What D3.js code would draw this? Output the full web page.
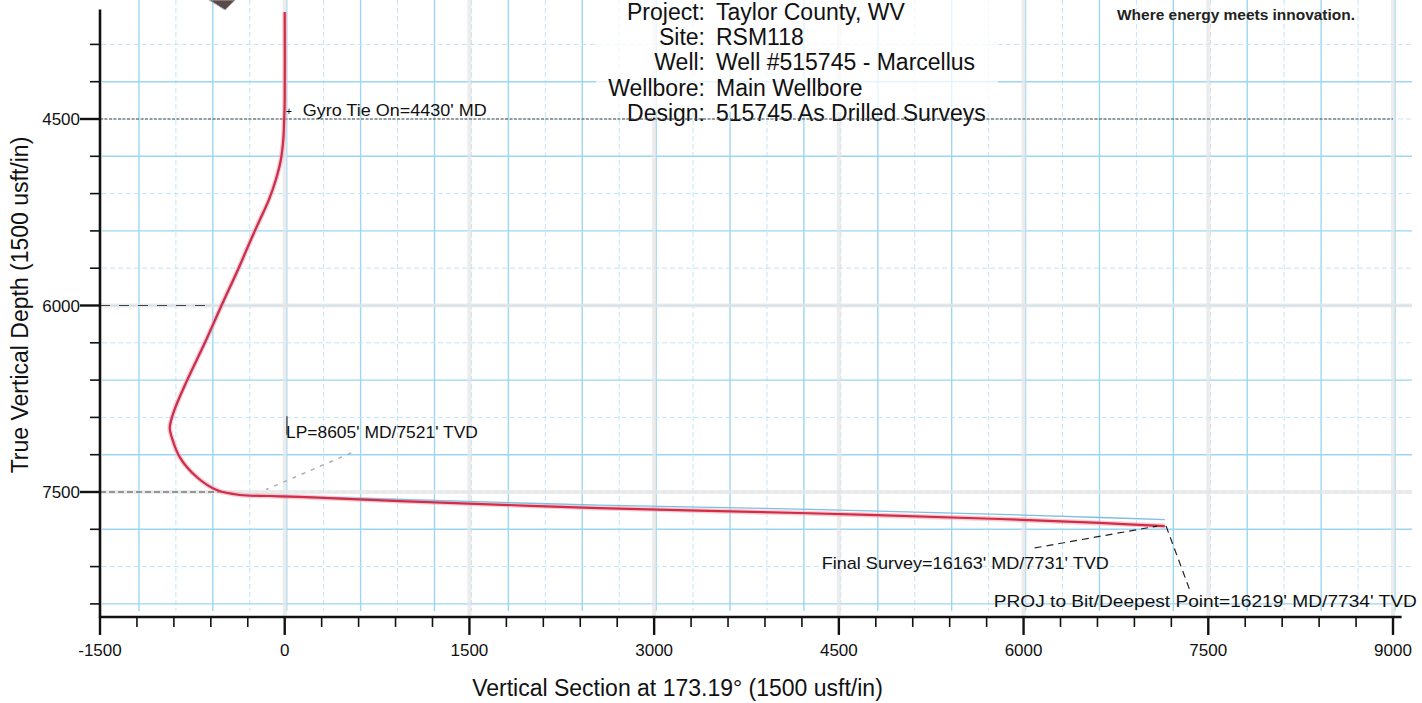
<!DOCTYPE html>
<html>
<head>
<meta charset="utf-8">
<script src="https://d3js.org/d3.v7.min.js"></script>
<style>
  body { margin: 0; background: #fff; }
  svg { display: block; font-family: 'Liberation Sans', Arial, sans-serif; }
</style>
</head>
<body>
<script>

    // actual surveys: vertical section (usft) / true vertical depth (usft)
    var vsActual  = [0, 0, -4, -12, -32, -73, -130, -203, -276, -374, -512, -650, -796, -902, -934, -918, -853, -715, -552, -365, -122, 122, 934, 2558, 4183, 5807, 6619, 7147];
    var tvdActual = [3639, 4347, 4492, 4669, 4830, 4991, 5152, 5312, 5473, 5698, 5996, 6302, 6608, 6857, 6985, 7058, 7219, 7379, 7484, 7524, 7532, 7540, 7573, 7629, 7669, 7717, 7749, 7774];

    // plan line (thin blue one under the red)
    var vsPlan  = [0, 0, -2, -9, -28, -68, -124, -197, -270, -367, -505, -643, -790, -897, -930, -915, -850, -712, -548, -360, -120, 125, 934, 2558, 4183, 5807, 6619, 7147];
    var tvdPlan = [3639, 4347, 4492, 4669, 4830, 4991, 5152, 5312, 5473, 5698, 5996, 6302, 6608, 6857, 6985, 7058, 7219, 7379, 7484, 7522, 7530, 7537, 7560, 7605, 7638, 7680, 7705, 7722];

    var xTickLabels = [-1500, 0, 1500, 3000, 4500, 6000, 7500, 9000];
    var yTickLabels = [4500, 6000, 7500];

    var headerKeys   = ["Project:", "Site:", "Well:", "Wellbore:", "Design:"];
    var headerValues = ["Taylor County, WV", "RSM118", "Well #515745 - Marcellus", "Main Wellbore", "515745 As Drilled Surveys"];

    var noteGyro  = "Gyro Tie On=4430' MD";
    var noteLP    = "LP=8605' MD/7521' TVD";
    var noteFinal = "Final Survey=16163' MD/7731' TVD";
    var noteProj  = "PROJ to Bit/Deepest Point=16219' MD/7734' TVD";

    var svg = d3.select("body").append("svg")
        .attr("width", 1422)
        .attr("height", 703);

    // 1500 usft per inch both ways
    var x = d3.scaleLinear().domain([-1500, 9000]).range([100, 1393]);
    var y = d3.scaleLinear().domain([4500, 7500]).range([119, 492]);
    var vsEnd = 9070, tvdTop = 3620, tvdBot = 8505;
    var x0 = x(-1500), yAxis = y(tvdBot);

    // graph paper grid
    var gridVS = d3.range(-1200, 9001, 300);
    var gridTVD = d3.range(3900, 8401, 300);
    var paper = svg.append("g");
    paper.selectAll(".gv").data(gridVS).enter().append("line")
        .attr("x1", function(d) { return x(d) + 2; })
        .attr("x2", function(d) { return x(d) + 2; })
        .attr("y1", 0)
        .attr("y2", yAxis - 6)
        .attr("stroke", function(d) { return d % 600 === 0 ? "#9dd6f1" : "#c3e5f5"; })
        .attr("stroke-width", function(d) { return d % 600 === 0 ? 1.4 : 1; })
        .attr("stroke-dasharray", function(d) { return d % 600 === 0 ? null : "5,3"; });
    paper.selectAll(".gh").data(gridTVD).enter().append("line")
        .attr("x1", x0 + 2)
        .attr("x2", 1412)
        .attr("y1", function(d) { return y(d); })
        .attr("y2", function(d) { return y(d); })
        .attr("stroke", function(d) { return d % 600 === 0 ? "#9dd6f1" : "#c3e5f5"; })
        .attr("stroke-width", function(d) { return d % 600 === 0 ? 1.4 : 1; })
        .attr("stroke-dasharray", function(d) { return d % 600 === 0 ? null : "5,3"; });

    // faint grey major grid
    var majorVS = xTickLabels.filter(function(d) { return d > -1500; });
    svg.selectAll(".mv").data(majorVS).enter().append("line")
        .attr("x1", function(d) { return x(d); })
        .attr("x2", function(d) { return x(d); })
        .attr("y1", 0)
        .attr("y2", yAxis)
        .attr("stroke", "#e6e6e6")
        .attr("stroke-width", 4)
        .attr("opacity", 0.75);
    svg.selectAll(".mh").data([6000, 7500]).enter().append("line")
        .attr("x1", x0)
        .attr("x2", 1412)
        .attr("y1", function(d) { return y(d); })
        .attr("y2", function(d) { return y(d); })
        .attr("stroke", "#e6e6e6")
        .attr("stroke-width", 4)
        .attr("opacity", 0.75);

    // header block (drawn before the depth line so the line shows through)
    var header = svg.append("g");
    header.append("rect")
        .attr("x", 596).attr("y", 0)
        .attr("width", 402).attr("height", 112)
        .attr("fill", "#fff").attr("opacity", 0.75);
    header.selectAll(".hk").data(headerKeys).enter().append("text")
        .attr("x", 705)
        .attr("y", function(d, i) { return 20 + i * 25.2; })
        .attr("text-anchor", "end")
        .style("font-size", "23px")
        .style("fill", "#111")
        .text(function(d) { return d; });
    header.selectAll(".hv").data(headerValues).enter().append("text")
        .attr("x", 716)
        .attr("y", function(d, i) { return 20 + i * 25.2; })
        .style("font-size", "23px")
        .style("fill", "#111")
        .text(function(d) { return d; });

    // dark dashed depth lines
    svg.append("line")
        .attr("x1", x0).attr("x2", x(9000))
        .attr("y1", y(4500)).attr("y2", y(4500))
        .attr("stroke", "#444").attr("stroke-width", 1)
        .attr("stroke-dasharray", "3,1.5");
    svg.append("line")
        .attr("x1", x0).attr("x2", x(-620))
        .attr("y1", y(6000)).attr("y2", y(6000))
        .attr("stroke", "#444").attr("stroke-width", 1.2)
        .attr("stroke-dasharray", "10,9");
    svg.append("line")
        .attr("x1", x0).attr("x2", x(-520))
        .attr("y1", y(7500)).attr("y2", y(7500))
        .attr("stroke", "#444").attr("stroke-width", 1.2)
        .attr("stroke-dasharray", "6,3");

    // logo leftovers
    svg.append("text")
        .attr("x", 1117).attr("y", 20)
        .attr("textLength", 238).attr("lengthAdjust", "spacingAndGlyphs")
        .style("font-size", "14px").style("font-weight", "bold")
        .style("fill", "#222")
        .text("Where energy meets innovation.");
    svg.append("path")
        .attr("d", "M" + (x(-500) - 14) + ",0 L" + (x(-500) + 12) + ",0 L" + (x(-500) + 2) + ",10 Z")
        .attr("fill", "#5a4a4a").attr("stroke", "#aaa").attr("stroke-width", 1);

    // well path
    var line = d3.line()
        .x(function(d) { return x(d[0]); })
        .y(function(d) { return y(d[1]); })
        .curve(d3.curveCatmullRom);
    var actual = d3.zip(vsActual, tvdActual);
    var plan = d3.zip(vsPlan, tvdPlan);

    svg.append("path").attr("d", line(actual))
        .attr("fill", "none").attr("stroke", "#f2a5b3")
        .attr("stroke-width", 5).attr("opacity", 0.55);
    svg.append("path").attr("d", line(plan))
        .attr("fill", "none").attr("stroke", "#7fbfe4")
        .attr("stroke-width", 1.3);
    svg.append("path").attr("d", line(actual))
        .attr("fill", "none").attr("stroke", "#d22c48")
        .attr("stroke-width", 2.2);

    // annotations
    var notes = svg.append("g").style("font-size", "17px").style("fill", "#111");
    notes.append("text").attr("x", x(146)).attr("y", y(4478))
        .attr("textLength", 184).attr("lengthAdjust", "spacingAndGlyphs").text(noteGyro);
    notes.append("text").attr("x", x(10)).attr("y", y(7068))
        .attr("textLength", 192).attr("lengthAdjust", "spacingAndGlyphs").text(noteLP);
    notes.append("text").attr("x", x(4361)).attr("y", y(8120))
        .attr("textLength", 287).attr("lengthAdjust", "spacingAndGlyphs").text(noteFinal);
    notes.append("text").attr("x", x(5758)).attr("y", y(8427))
        .attr("textLength", 423).attr("lengthAdjust", "spacingAndGlyphs").text(noteProj);

    // marker at gyro tie and LP
    svg.append("text").attr("x", x(10)).attr("y", y(4470))
        .style("font-size", "10px").text("+");
    svg.append("line")
        .attr("x1", x(18)).attr("x2", x(18))
        .attr("y1", y(6890)).attr("y2", y(7040))
        .attr("stroke", "#333").attr("stroke-width", 1.2);

    // leader lines
    var last = actual[actual.length - 1];
    svg.append("line")
        .attr("x1", x(6090)).attr("y1", y(7950))
        .attr("x2", x(last[0] - 60)).attr("y2", y(last[1]))
        .attr("stroke", "#222").attr("stroke-width", 1.2)
        .attr("stroke-dasharray", "7,5");
    svg.append("line")
        .attr("x1", x(last[0] + 10)).attr("y1", y(last[1]))
        .attr("x2", x(7350)).attr("y2", y(8290))
        .attr("stroke", "#222").attr("stroke-width", 1.2)
        .attr("stroke-dasharray", "7,5");
    svg.append("line")
        .attr("x1", x(540)).attr("y1", y(7185))
        .attr("x2", x(-150)).attr("y2", y(7480))
        .attr("stroke", "#aaa").attr("stroke-width", 1.4)
        .attr("stroke-dasharray", "4,6");

    // axes
    var ax = svg.append("g").attr("stroke", "#111");
    ax.append("line").attr("x1", x0).attr("x2", x0)
        .attr("y1", y(tvdTop)).attr("y2", yAxis + 1)
        .attr("stroke-width", 2.6);
    ax.append("line").attr("x1", x0 - 1).attr("x2", x(vsEnd))
        .attr("y1", yAxis).attr("y2", yAxis)
        .attr("stroke-width", 2.6);

    var xMinor = d3.range(-1500, 9001, 300);
    ax.selectAll(".xt").data(xMinor).enter().append("line")
        .attr("x1", function(d) { return x(d); })
        .attr("x2", function(d) { return x(d); })
        .attr("y1", yAxis)
        .attr("y2", function(d) { return yAxis + (xTickLabels.indexOf(d) >= 0 ? 18 : 10); })
        .attr("stroke-width", function(d) { return xTickLabels.indexOf(d) >= 0 ? 2.4 : 1.6; });

    var yMinor = d3.range(3900, 8401, 300);
    ax.selectAll(".yt").data(yMinor).enter().append("line")
        .attr("x1", x0)
        .attr("x2", function(d) { return x0 - (yTickLabels.indexOf(d) >= 0 ? 20 : 10); })
        .attr("y1", function(d) { return y(d); })
        .attr("y2", function(d) { return y(d); })
        .attr("stroke-width", function(d) { return yTickLabels.indexOf(d) >= 0 ? 2.4 : 1.6; });

    svg.selectAll(".xl").data(xTickLabels).enter().append("text")
        .attr("x", function(d) { return x(d); })
        .attr("y", yAxis + 39)
        .attr("text-anchor", "middle")
        .style("font-size", "17px").style("fill", "#111")
        .text(function(d) { return d; });
    svg.selectAll(".yl").data(yTickLabels).enter().append("text")
        .attr("x", x0 - 20)
        .attr("y", function(d) { return y(d) + 6; })
        .attr("text-anchor", "end")
        .style("font-size", "17px").style("fill", "#111")
        .text(function(d) { return d; });

    svg.append("text")
        .attr("x", (466 + 889) / 2).attr("y", 696)
        .attr("text-anchor", "middle")
        .style("font-size", "23px").style("fill", "#111")
        .text("Vertical Section at 173.19\u00b0 (1500 usft/in)");
    svg.append("text")
        .attr("transform", "translate(28," + (132 + 478) / 2 + ") rotate(-90)")
        .attr("text-anchor", "middle")
        .style("font-size", "23px").style("fill", "#111")
        .text("True Vertical Depth (1500 usft/in)");

</script>
</body>
</html>
